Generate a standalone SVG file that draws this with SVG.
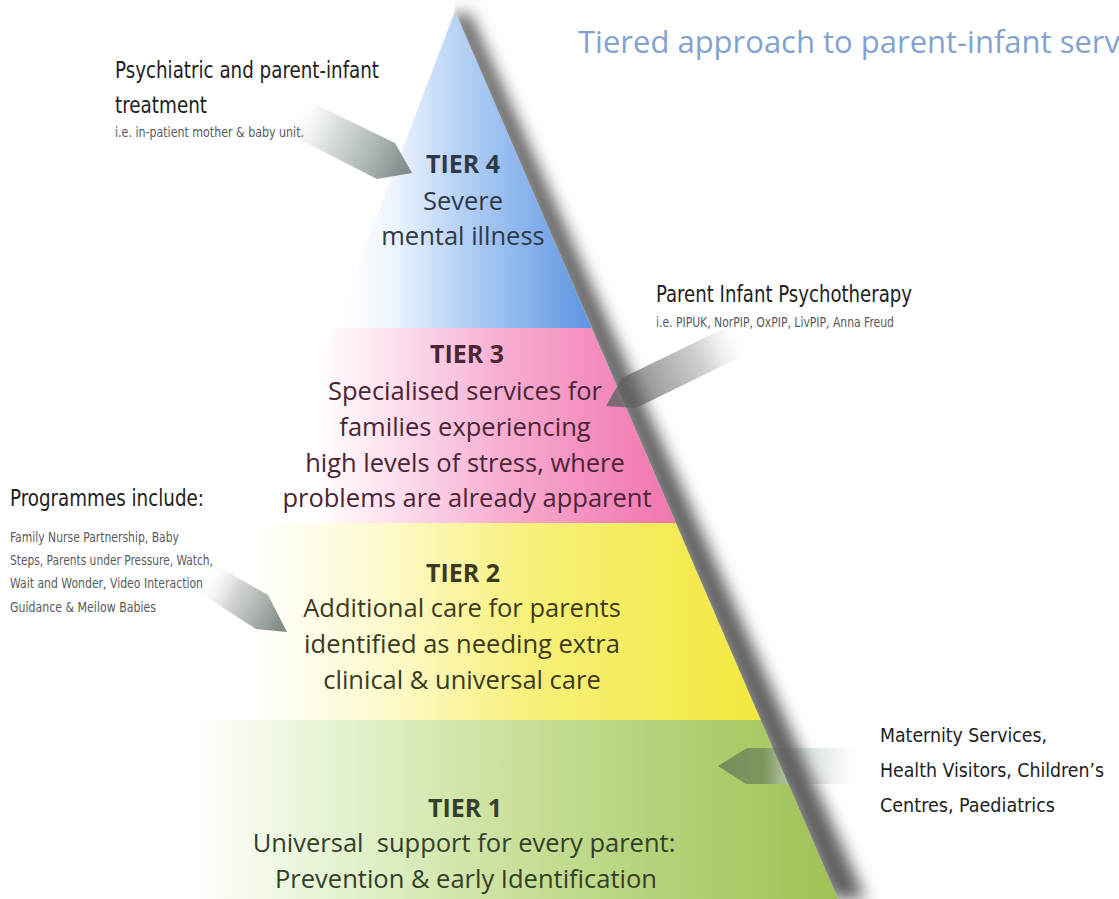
<svg xmlns="http://www.w3.org/2000/svg" width="1119" height="899" viewBox="0 0 1119 899">
<defs>
<style>
.tier{font-family:"Open Sans","Noto Sans","Liberation Sans",sans-serif;font-size:25.5px;text-anchor:middle}
.th{font-weight:700;font-size:25px}
.lab{font-family:"Liberation Sans Narrow","DejaVu Sans Condensed","Liberation Sans",sans-serif;font-size:23px;fill:#222}
.lab2{font-family:"Liberation Sans Narrow","DejaVu Sans Condensed","Liberation Sans",sans-serif;font-size:20px;fill:#222}
.small{font-family:"Liberation Sans Narrow","DejaVu Sans Condensed","Liberation Sans",sans-serif;font-size:14px;fill:#5a5a5a}
.title{font-family:"Open Sans","Noto Sans","Liberation Sans",sans-serif;font-size:31px;fill:#82a3cf}
</style>
<linearGradient id="gBlue" gradientUnits="userSpaceOnUse" x1="340" y1="0" x2="592" y2="0">
<stop offset="0" stop-color="#ffffff"/><stop offset="0.2" stop-color="#f0f6fe"/><stop offset="0.45" stop-color="#bcd5f6"/><stop offset="0.7" stop-color="#90b8ee"/><stop offset="1" stop-color="#5d94e0"/>
</linearGradient>
<linearGradient id="gPink" gradientUnits="userSpaceOnUse" x1="255" y1="0" x2="676" y2="0">
<stop offset="0" stop-color="#ffffff"/><stop offset="0.15" stop-color="#ffffff"/><stop offset="0.35" stop-color="#fcdcec"/><stop offset="0.6" stop-color="#f7acd0"/><stop offset="0.85" stop-color="#f387bb"/><stop offset="1" stop-color="#f177ad"/>
</linearGradient>
<linearGradient id="gYellow" gradientUnits="userSpaceOnUse" x1="185" y1="0" x2="761" y2="0">
<stop offset="0" stop-color="#ffffff"/><stop offset="0.12" stop-color="#ffffff"/><stop offset="0.35" stop-color="#fdfacc"/><stop offset="0.6" stop-color="#f8f07a"/><stop offset="1" stop-color="#f2e83e"/>
</linearGradient>
<linearGradient id="gGreen" gradientUnits="userSpaceOnUse" x1="118" y1="0" x2="838" y2="0">
<stop offset="0" stop-color="#ffffff"/><stop offset="0.1" stop-color="#ffffff"/><stop offset="0.3" stop-color="#e6f3d2"/><stop offset="0.55" stop-color="#c9e09a"/><stop offset="0.8" stop-color="#b0cf72"/><stop offset="1" stop-color="#9fc255"/>
</linearGradient>
<linearGradient id="a1" gradientUnits="userSpaceOnUse" x1="290" y1="112" x2="405" y2="168">
<stop offset="0" stop-color="#ffffff" stop-opacity="0"/><stop offset="0.35" stop-color="#d6dcdc" stop-opacity="0.85"/><stop offset="1" stop-color="#838d8d"/>
</linearGradient>
<linearGradient id="a2" gradientUnits="userSpaceOnUse" x1="748" y1="334" x2="615" y2="396">
<stop offset="0" stop-color="#ffffff" stop-opacity="0"/><stop offset="0.35" stop-color="#c9cdcd" stop-opacity="0.85"/><stop offset="1" stop-color="#666666" stop-opacity="0.85"/>
</linearGradient>
<linearGradient id="a3" gradientUnits="userSpaceOnUse" x1="203" y1="575" x2="282" y2="622">
<stop offset="0" stop-color="#ffffff" stop-opacity="0"/><stop offset="0.4" stop-color="#cdd2cd" stop-opacity="0.9"/><stop offset="1" stop-color="#858c86"/>
</linearGradient>
<linearGradient id="a4" gradientUnits="userSpaceOnUse" x1="718" y1="0" x2="868" y2="0">
<stop offset="0" stop-color="#4a574d" stop-opacity="0.55"/><stop offset="0.3" stop-color="#55625a" stop-opacity="0.5"/><stop offset="0.42" stop-color="#aab4b4" stop-opacity="0.6"/><stop offset="0.75" stop-color="#dfe5e5" stop-opacity="0.6"/><stop offset="1" stop-color="#ffffff" stop-opacity="0"/>
</linearGradient>
<filter id="blur" x="-20%" y="-5%" width="140%" height="110%"><feGaussianBlur stdDeviation="8"/></filter>
<clipPath id="outside"><polygon points="455,11 838,899 1119,899 1119,0 455,0"/></clipPath>
</defs>
<rect width="1119" height="899" fill="#ffffff"/>

<g id="title"><text class="title" x="578" y="53">Tiered approach to parent-infant serv</text></g>

<g id="pyramid">
<g id="tier4">
<polygon points="455,11 591.7,328 334.5,328" fill="url(#gBlue)"/>
<text class="tier th" x="463" y="173" fill="#2f3a47">TIER 4</text>
<text class="tier" x="463" y="210" fill="#2f3a47">Severe</text>
<text class="tier" x="463" y="245" fill="#2f3a47">mental illness</text>
</g>
<g id="tier3">
<polygon points="334.5,328 591.7,328 675.8,523 260.4,523" fill="url(#gPink)"/>
<text class="tier th" x="467" y="363" fill="#4b2535">TIER 3</text>
<text class="tier" x="465" y="400" fill="#4b2535">Specialised services for</text>
<text class="tier" x="465" y="436" fill="#4b2535">families experiencing</text>
<text class="tier" x="465" y="472" fill="#4b2535">high levels of stress, where</text>
<text class="tier" x="467" y="507" fill="#4b2535">problems are already apparent</text>
</g>
<g id="tier2">
<polygon points="260.4,523 675.8,523 760.8,720 185.6,720" fill="url(#gYellow)"/>
<text class="tier th" x="463" y="582" fill="#3b3a1e">TIER 2</text>
<text class="tier" x="462" y="617" fill="#3b3a1e">Additional care for parents</text>
<text class="tier" x="462" y="653" fill="#3b3a1e">identified as needing extra</text>
<text class="tier" x="462" y="689" fill="#3b3a1e">clinical &amp; universal care</text>
</g>
<g id="tier1">
<polygon points="185.6,720 760.8,720 838,899 117.6,899" fill="url(#gGreen)"/>
<text class="tier th" x="465" y="817" fill="#34402a">TIER 1</text>
<text class="tier" x="464" y="852" fill="#34402a" xml:space="preserve">Universal  support for every parent:</text>
<text class="tier" x="466" y="888" fill="#34402a">Prevention &amp; early Identification</text>
</g>
</g>

<g id="connectors">
<polygon points="300,97 395,143 412,173 377,179 285,132" fill="url(#a1)"/>
<polygon points="606,406 622,378 739,321 753,351 636,408" fill="url(#a2)"/>
<polygon points="212,563 268,595 287,632 256,629 200,593" fill="url(#a3)"/>
<polygon points="718,766 747,748 870,748 870,784 746,784" fill="url(#a4)"/>
</g>

<g id="edge-shadow" clip-path="url(#outside)">
<polygon points="450,14 832,899 866,899 470,14" fill="#5e5e5e" filter="url(#blur)"/>
</g>

<g id="label-psychiatric">
<text class="lab" x="115" y="78" textLength="264" lengthAdjust="spacingAndGlyphs">Psychiatric and parent-infant</text>
<text class="lab" x="115" y="113" textLength="92" lengthAdjust="spacingAndGlyphs">treatment</text>
<text class="small" x="115" y="137" textLength="189" lengthAdjust="spacingAndGlyphs">i.e. in-patient mother &amp; baby unit.</text>
</g>
<g id="label-pip">
<text class="lab" x="656" y="302" textLength="256" lengthAdjust="spacingAndGlyphs">Parent Infant Psychotherapy</text>
<text class="small" x="656" y="327" textLength="238" lengthAdjust="spacingAndGlyphs">i.e. PIPUK, NorPIP, OxPIP, LivPIP, Anna Freud</text>
</g>
<g id="label-programmes">
<text class="lab" x="10" y="506" textLength="194" lengthAdjust="spacingAndGlyphs">Programmes include:</text>
<text class="small" x="10" y="542" textLength="169" lengthAdjust="spacingAndGlyphs">Family Nurse Partnership, Baby</text>
<text class="small" x="10" y="565" textLength="203" lengthAdjust="spacingAndGlyphs">Steps, Parents under Pressure, Watch,</text>
<text class="small" x="10" y="588" textLength="193" lengthAdjust="spacingAndGlyphs">Wait and Wonder, Video Interaction</text>
<text class="small" x="10" y="612" textLength="146" lengthAdjust="spacingAndGlyphs">Guidance &amp; Meilow Babies</text>
</g>
<g id="label-maternity">
<text class="lab2" x="880" y="742" textLength="167" lengthAdjust="spacingAndGlyphs">Maternity Services,</text>
<text class="lab2" x="880" y="777" textLength="224" lengthAdjust="spacingAndGlyphs">Health Visitors, Children’s</text>
<text class="lab2" x="880" y="812" textLength="175" lengthAdjust="spacingAndGlyphs">Centres, Paediatrics</text>
</g>
</svg>
